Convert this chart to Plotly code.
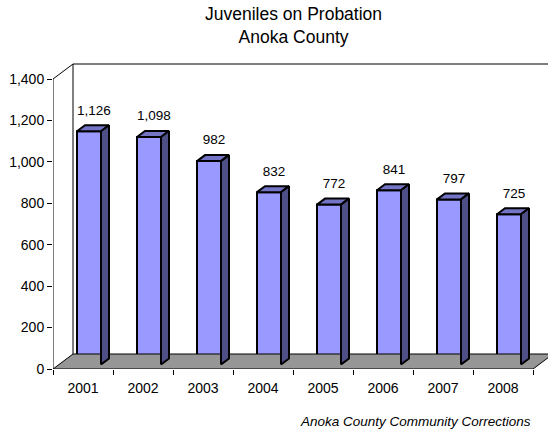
import plotly.graph_objects as go

# ---- data ----
years = ["2001", "2002", "2003", "2004", "2005", "2006", "2007", "2008"]
values = [1126, 1098, 982, 832, 772, 841, 797, 725]
y_ticks = [0, 200, 400, 600, 800, 1000, 1200, 1400]
title_lines = ["Juveniles on Probation", "Anoka County"]
source_text = "Anoka County Community Corrections"

# ---- geometry / style (pixel-based projection of the 3D look) ----
W, H = 548, 432
ML, MR, MT, MB = 53, 0, 60, 63
PX_PER_CAT = 60.0
PX_AXIS = 290.0                      # pixels for the 0..max tick span
YMAX = y_ticks[-1]
UNITS_PER_PX = YMAX / PX_AXIS
plot_h = H - MT - MB
plot_w = W - ML - MR
x0 = -0.5
x1 = len(years) - 0.5
xr_max = x0 + plot_w / PX_PER_CAT
yr_max = plot_h * UNITS_PER_PX

DXU = 20 / PX_PER_CAT                # full depth offset in x units
DYV = 15 * UNITS_PER_PX              # full depth offset in y units
F = 0.3                              # bar front-face depth fraction
D = 0.4                              # bar depth fraction
BW = 0.4                             # bar width (category units)

FRONT = "#9999FF"
TOP = "#7474C6"
SIDE = "#4F4F88"
FLOOR = "#969696"
FONT = "Liberation Sans, Arial, sans-serif"


def paper_y(py):
    return (H - MB - py) / plot_h


def paper_x(px):
    return (px - ML) / plot_w


fig = go.Figure()

# floor
fig.add_trace(go.Scatter(
    x=[x0, x1, x1 + DXU, x0 + DXU, x0],
    y=[0, 0, DYV, DYV, 0],
    mode="lines", fill="toself", fillcolor=FLOOR,
    line=dict(color="black", width=1), hoverinfo="skip"))

# back wall edges + front axis line
fig.add_trace(go.Scatter(
    x=[x0, x0, x0 + DXU, x1 + DXU + 1, None, x0 + DXU, x0 + DXU],
    y=[0, YMAX, YMAX + DYV, YMAX + DYV, None, YMAX + DYV, DYV],
    mode="lines", line=dict(color="black", width=1), hoverinfo="skip"))

# bar front faces
xc = [i + F * DXU for i in range(len(years))]
fig.add_trace(go.Bar(
    x=xc, y=values, base=[F * DYV] * len(values), width=BW,
    marker=dict(color=FRONT, line=dict(color="black", width=2)),
    hoverinfo="skip"))

# top and side faces
tx, ty, sx, sy = [], [], [], []
for i, v in enumerate(values):
    xl = xc[i] - BW / 2
    xr = xc[i] + BW / 2
    yb = F * DYV
    yt = v + F * DYV
    ddx, ddy = D * DXU, D * DYV
    tx += [xl, xr, xr + ddx, xl + ddx, xl, None]
    ty += [yt, yt, yt + ddy, yt + ddy, yt, None]
    sx += [xr, xr + ddx, xr + ddx, xr, xr, None]
    sy += [yb, yb + ddy, yt + ddy, yt, yb, None]
fig.add_trace(go.Scatter(x=tx, y=ty, mode="lines", fill="toself", fillcolor=TOP,
                         line=dict(color="black", width=2), hoverinfo="skip"))
fig.add_trace(go.Scatter(x=sx, y=sy, mode="lines", fill="toself", fillcolor=SIDE,
                         line=dict(color="black", width=2), hoverinfo="skip"))

# data labels
fig.add_trace(go.Scatter(
    x=[i + 0.55 * DXU for i in range(len(years))],
    y=[v + (F + D) * DYV + 14 * UNITS_PER_PX for v in values],
    mode="text", text=[f"{v:,}" for v in values],
    textposition="middle center",
    textfont=dict(family=FONT, size=13.5, color="black"),
    cliponaxis=False, hoverinfo="skip"))

# invisible trace on x2 so the boundary-tick axis is drawn
fig.add_trace(go.Scatter(x=[x0], y=[0], xaxis="x2", mode="markers",
                         marker=dict(opacity=0), hoverinfo="skip"))

fig.update_layout(
    width=W, height=H,
    margin=dict(l=ML, r=MR, t=MT, b=MB),
    paper_bgcolor="white", plot_bgcolor="white",
    showlegend=False,
    xaxis=dict(range=[x0, xr_max], tickvals=list(range(len(years))), ticktext=years,
               ticks="outside", ticklen=6, tickcolor="rgba(0,0,0,0)",
               showline=False, showgrid=False, zeroline=False,
               tickfont=dict(family=FONT, size=14, color="black")),
    xaxis2=dict(range=[x0, xr_max], overlaying="x", anchor="y", side="bottom",
                tickvals=[x0 + k for k in range(len(years) + 1)],
                showticklabels=False, ticks="outside", ticklen=5, tickcolor="black",
                tickwidth=1, showline=False, showgrid=False, zeroline=False),
    yaxis=dict(range=[0, yr_max], tickvals=y_ticks, tickformat=",",
               ticks="outside", ticklen=5, tickcolor="black",
               showline=False, showgrid=False, zeroline=False,
               tickfont=dict(family=FONT, size=14, color="black")),
    annotations=[
        dict(text="<br>".join(title_lines), xref="paper", yref="paper",
             x=paper_x(293), y=paper_y(26), xanchor="center", yanchor="middle",
             showarrow=False, align="center",
             font=dict(family=FONT, size=17.5, color="black")),
        dict(text=f"<i>{source_text}</i>", xref="paper", yref="paper",
             x=paper_x(533), y=paper_y(421),
             xanchor="right", yanchor="middle", showarrow=False,
             font=dict(family=FONT, size=13.5, color="black")),
    ],
)

fig.write_html("out.html")
